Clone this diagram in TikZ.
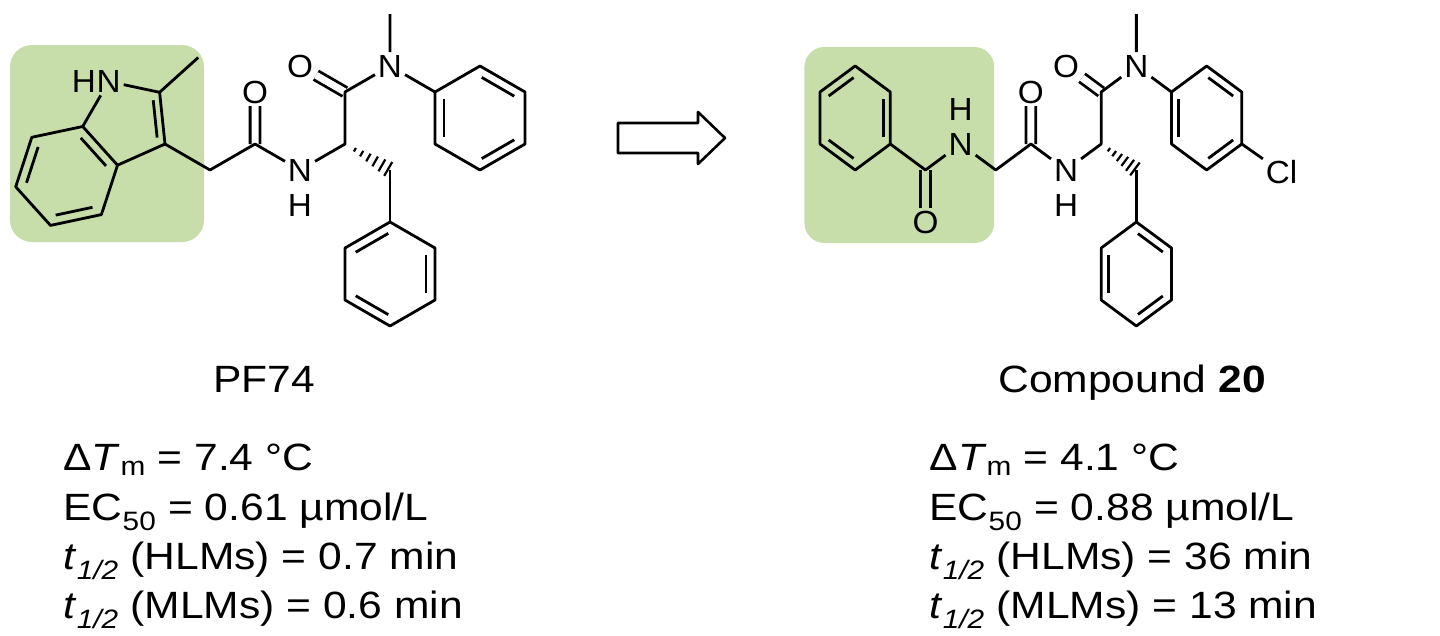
\documentclass[tikz,border=0pt]{standalone}
\usepackage{fontspec}
\setmainfont{Liberation Sans}
\usetikzlibrary{calc}
\definecolor{leafgreen}{RGB}{199,221,170}

\begin{document}
\begin{tikzpicture}[x=1pt,y=-1pt,line width=2.8pt,line join=round]
		\tikzstyle{atom}=[inner sep=1.5pt,font=\fontsize{32}{32}\selectfont,xscale=1.04]
		\tikzstyle{titletext}=[anchor=base,inner sep=0pt,font=\fontsize{38}{46}\selectfont,xscale=1.12]
		\tikzstyle{datatext}=[anchor=base west,inner sep=0pt,font=\fontsize{38}{46}\selectfont,xscale=1.12]
		\tikzstyle{dbond}=[double=white,double distance=7pt]
		\tikzstyle{inner}=[shorten <=2pt,shorten >=2pt]
		\tikzstyle{hatch}=[line width=2.2pt]
		\fill[white] (0,0) rectangle (1440,635);
		\useasboundingbox (0,0) rectangle (1440,635);
		\fill[leafgreen,rounded corners=22pt] (10,45) rectangle (204,242);
		
		% PF74
		\coordinate (c3) at (165,144);
		\coordinate (c2) at (159.6,92.3);
		\node[atom] (n1) at (108.7,81.5) {N};
		\node[atom] (h1) at (84,81.5) {H};
		\coordinate (c7a) at (82.7,126.5);
		\coordinate (c3a) at (117.5,165.2);
		\coordinate (c4) at (101.4,214.6);
		\coordinate (c5) at (50.5,225.4);
		\coordinate (c6) at (15.7,186.8);
		\coordinate (c7) at (31.8,137.3);
		\coordinate (me1) at (198.2,57.5);
		\coordinate (indz) at (66.6,176);
		\coordinate (pyrz) at (126.7,121.9);
		\coordinate (ch1) at (210,170);
		\coordinate (ca1) at (255,144);
		\node[atom] (o1) at (255,92) {O};
		\node[atom] (n2) at (300,170) {N};
		\node[atom] (h2) at (300,205) {H};
		\coordinate (cal) at (345,144);
		\coordinate (cc1) at (345,92);
		\node[atom] (o2) at (300,66) {O};
		\node[atom] (n3) at (390,66) {N};
		\coordinate (me2) at (390,14);
		\coordinate (p1) at (435,92);
		\coordinate (p2) at (480,66);
		\coordinate (p3) at (525,92);
		\coordinate (p4) at (525,144);
		\coordinate (p5) at (480,170);
		\coordinate (p6) at (435,144);
		\coordinate (pz) at (480,118);
		\coordinate (bz1) at (390,170);
		\coordinate (q1) at (390,222);
		\coordinate (q2) at (435,248);
		\coordinate (q3) at (435,300);
		\coordinate (q4) at (390,326);
		\coordinate (q5) at (345,300);
		\coordinate (q6) at (345,248);
		\coordinate (qz) at (390,274);
		
		\draw[dbond] (ca1) -- (o1);
		\draw[dbond] (cc1) -- (o2);
		\draw (c7a) -- (c7) -- (c6) -- (c5) -- (c4) -- (c3a) -- cycle;
		\draw (c3a) -- (c3) -- (c2) -- (n1) -- (c7a);
		\draw (c2) -- (me1);
		\draw (c3) -- (ch1) -- (ca1) -- (n2) -- (cal) -- (cc1) -- (n3) -- (p1);
		\draw (n3) -- (me2);
		\draw (p1) -- (p2) -- (p3) -- (p4) -- (p5) -- (p6) -- cycle;
		\draw (bz1) -- (q1);
		\draw (q1) -- (q2) -- (q3) -- (q4) -- (q5) -- (q6) -- cycle;
		
		% compound 20
		\begin{scope}[shift={(175.7,0)},xscale=0.781]
			\fill[leafgreen,rounded corners=20pt] (805,47) rectangle (1048,243);
			\coordinate (r1) at (915,144);
			\coordinate (r2) at (915,92);
			\coordinate (r3) at (870,66);
			\coordinate (r4) at (825,92);
			\coordinate (r5) at (825,144);
			\coordinate (r6) at (870,170);
			\coordinate (rz) at (870,118);
			\coordinate (cb1) at (960,170);
			\node[atom] (o3) at (960,222) {O};
			\node[atom] (n4) at (1005,144) {N};
			\node[atom] (h4) at (1005,109) {H};
			\coordinate (ch2) at (1050,170);
			\coordinate (cb2) at (1095,144);
			\node[atom] (o4) at (1095,92) {O};
			\node[atom] (n5) at (1140,170) {N};
			\node[atom] (h5) at (1140,205) {H};
			\coordinate (car) at (1185,144);
			\coordinate (cc2) at (1185,92);
			\node[atom] (o5) at (1140,66) {O};
			\node[atom] (n6) at (1230,66) {N};
			\coordinate (me3) at (1230,14);
			\coordinate (s1) at (1275,92);
			\coordinate (s2) at (1320,66);
			\coordinate (s3) at (1365,92);
			\coordinate (s4) at (1365,144);
			\coordinate (s5) at (1320,170);
			\coordinate (s6) at (1275,144);
			\coordinate (sz) at (1320,118);
			\node[atom] (cl) at (1416,172) {Cl};
			\coordinate (bz2) at (1230,170);
			\coordinate (t1) at (1230,222);
			\coordinate (t2) at (1275,248);
			\coordinate (t3) at (1275,300);
			\coordinate (t4) at (1230,326);
			\coordinate (t5) at (1185,300);
			\coordinate (t6) at (1185,248);
			\coordinate (tz) at (1230,274);
		\end{scope}
		
		\draw[dbond,double=leafgreen] (cb1) -- (o3);
		\draw[dbond] (cb2) -- (o4);
		\draw[dbond] (cc2) -- (o5);
		\draw (r1) -- (r2) -- (r3) -- (r4) -- (r5) -- (r6) -- cycle;
		\draw (r1) -- (cb1) -- (n4) -- (ch2) -- (cb2) -- (n5) -- (car) -- (cc2) -- (n6) -- (s1);
		\draw (n6) -- (me3);
		\draw (s1) -- (s2) -- (s3) -- (s4) -- (s5) -- (s6) -- cycle;
		\draw (s4) -- (cl);
		\draw (bz2) -- (t1);
		\draw (t1) -- (t2) -- (t3) -- (t4) -- (t5) -- (t6) -- cycle;
		
		\foreach \z/\a/\b in {indz/c7/c6,indz/c5/c4,indz/c7a/c3a,pyrz/c2/c3,pz/p1/p6,pz/p2/p3,pz/p4/p5,
			qz/q1/q6,qz/q2/q3,qz/q5/q4,rz/r3/r4,rz/r2/r1,rz/r5/r6,sz/s1/s6,sz/s2/s3,sz/s4/s5,
			tz/t6/t5,tz/t1/t2,tz/t3/t4}{
			\draw[inner] ($(\z)!0.8!(\a)$) -- ($(\z)!0.8!(\b)$);
		};
		\foreach \f/\g in {cal/bz1,car/bz2}{
			\foreach \t/\w in {0.22/2,0.37/3.2,0.52/4.4,0.67/5.6,0.82/6.8,0.96/8}{
				\coordinate (hc) at ($(\f)!\t!(\g)$);
				\draw[hatch] ($(hc)!\w pt!90:(\g)$) -- ($(hc)!\w pt!-90:(\g)$);
			};
		};
		
		\draw[line width=2.6pt] (618,123) -- (698,123) -- (698,112) -- (725,138) -- (698,164) -- (698,153) -- (618,153) -- cycle;
		
		\node[titletext] (name1) at (264,392) {PF74};
		\node[titletext] (name2) at (1132,392) {Compound \textbf{20}};
		\node[datatext] (d1) at (62,470) {Δ\textit{T}\textsubscript{m} = 7.4 °C};
		\node[datatext] (d2) at (62,520) {EC\textsubscript{50} = 0.61 µmol/L};
		\node[datatext] (d3) at (62,569) {\textit{t}\textsubscript{\textit{1/2}} (HLMs) = 0.7 min};
		\node[datatext] (d4) at (62,618) {\textit{t}\textsubscript{\textit{1/2}} (MLMs) = 0.6 min};
		\node[datatext] (e1) at (928,470) {Δ\textit{T}\textsubscript{m} = 4.1 °C};
		\node[datatext] (e2) at (928,520) {EC\textsubscript{50} = 0.88 µmol/L};
		\node[datatext] (e3) at (928,569) {\textit{t}\textsubscript{\textit{1/2}} (HLMs) = 36 min};
		\node[datatext] (e4) at (928,618) {\textit{t}\textsubscript{\textit{1/2}} (MLMs) = 13 min};
	\end{tikzpicture}
\end{document}
